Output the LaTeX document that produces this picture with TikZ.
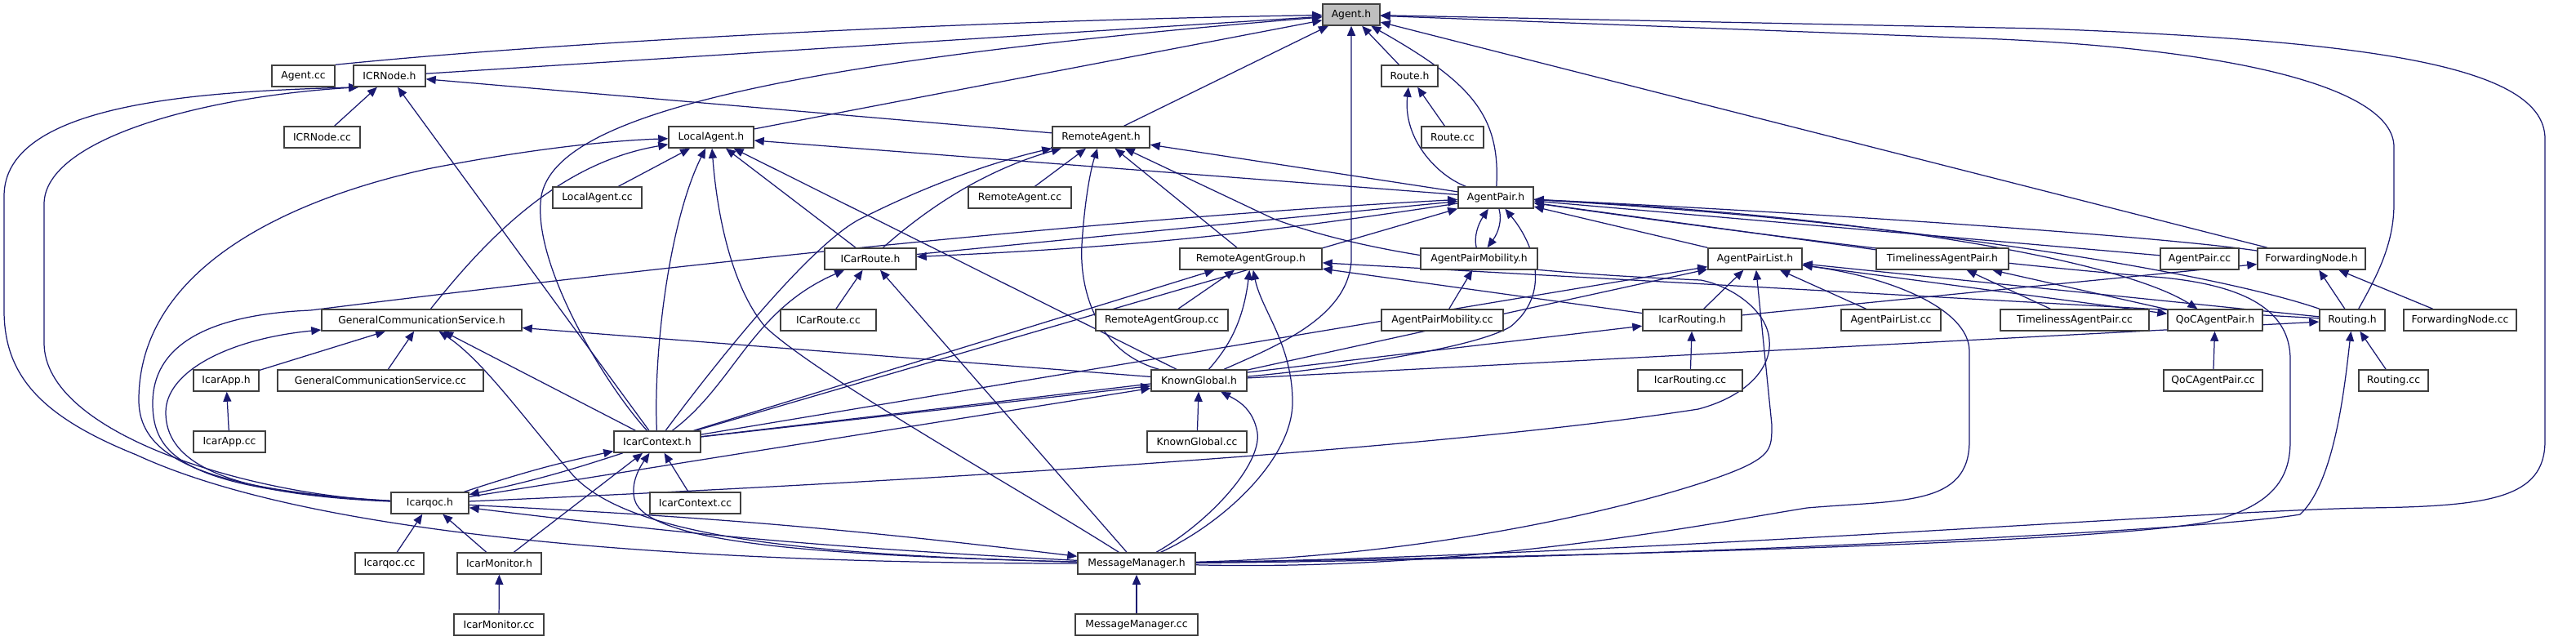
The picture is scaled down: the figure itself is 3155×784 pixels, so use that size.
\documentclass[tikz,border=0pt]{standalone}
\usepackage{fontspec}
\setmainfont{DejaVu Sans}
\usetikzlibrary{arrows.meta}
\definecolor{mblue}{HTML}{191970}
\definecolor{bord}{HTML}{404040}
\definecolor{gfill}{HTML}{BFBFBF}
\pgfdeclarelayer{bg}
\pgfsetlayers{bg,main}
\begin{document}
\begin{tikzpicture}[x=0.5pt,y=-0.5pt,
 box/.style={draw=bord, line width=0.75pt, fill=white, minimum height=13pt, inner sep=0pt, font=\fontsize{6.2}{7}\selectfont},
 dep/.style={draw=mblue, line width=0.62pt, -{Triangle[length=6pt,width=5pt]}}]
\useasboundingbox (0,0) rectangle (3155,784);
% row 0
\node[box,fill=gfill,minimum width=35pt] (agenth) at (1655,18) {Agent.h};
% row 1
\node[box,minimum width=38.5pt] (agentcc) at (371.5,93) {Agent.cc};
\node[box,minimum width=44pt] (icrnodeh) at (477,93) {ICRNode.h};
\node[box,minimum width=34.5pt] (routeh) at (1726.5,93) {Route.h};
% row 2
\node[box,minimum width=46.5pt] (icrnodecc) at (394.5,168) {ICRNode.cc};
\node[box,minimum width=52pt] (localh) at (871,168) {LocalAgent.h};
\node[box,minimum width=59.5pt] (remoteh) at (1348.5,168) {RemoteAgent.h};
\node[box,minimum width=38pt] (routecc) at (1779,168) {Route.cc};
% row 3
\node[box,minimum width=54.5pt] (localcc) at (731.5,242) {LocalAgent.cc};
\node[box,minimum width=63pt] (remotecc) at (1249,242) {RemoteAgent.cc};
\node[box,minimum width=46pt] (pairh) at (1832,242) {AgentPair.h};
% row 4
\node[box,minimum width=56pt] (icarrouteh) at (1066,317) {ICarRoute.h};
\node[box,minimum width=87pt] (ragh) at (1532,317) {RemoteAgentGroup.h};
\node[box,minimum width=71.5pt] (apmh) at (1811.5,317) {AgentPairMobility.h};
\node[box,minimum width=57.5pt] (aplh) at (2149.5,317) {AgentPairList.h};
\node[box,minimum width=81pt] (taph) at (2379,317) {TimelinessAgentPair.h};
\node[box,minimum width=48pt] (paircc) at (2694,317) {AgentPair.cc};
\node[box,minimum width=66pt] (fwdh) at (2831,317) {ForwardingNode.h};
% row 5
\node[box,minimum width=122.5pt] (gcsh) at (516.5,392) {GeneralCommunicationService.h};
\node[box,minimum width=58.5pt] (icarroutecc) at (1014.5,392) {ICarRoute.cc};
\node[box,minimum width=81pt] (ragcc) at (1423,392) {RemoteAgentGroup.cc};
\node[box,minimum width=74.5pt] (apmcc) at (1766.5,392) {AgentPairMobility.cc};
\node[box,minimum width=60.5pt] (irouth) at (2072.5,392) {IcarRouting.h};
\node[box,minimum width=61pt] (aplcc) at (2316,392) {AgentPairList.cc};
\node[box,minimum width=91pt] (tapcc) at (2541,392) {TimelinessAgentPair.cc};
\node[box,minimum width=58pt] (qoch) at (2713,392) {QoCAgentPair.h};
\node[box,minimum width=40pt] (routingh) at (2881,392) {Routing.h};
\node[box,minimum width=69pt] (fwdcc) at (3013,392) {ForwardingNode.cc};
% row 6
\node[box,minimum width=40pt] (apph) at (277,466) {IcarApp.h};
\node[box,minimum width=126pt] (gcscc) at (466,466) {GeneralCommunicationService.cc};
\node[box,minimum width=58.5pt] (kgh) at (1468.5,466) {KnownGlobal.h};
\node[box,minimum width=64pt] (iroutcc) at (2070,466) {IcarRouting.cc};
\node[box,minimum width=60.5pt] (qoccc) at (2710.5,466) {QoCAgentPair.cc};
\node[box,minimum width=42.5pt] (routingcc) at (2931.5,466) {Routing.cc};
% row 7
\node[box,minimum width=44pt] (appcc) at (281,541) {IcarApp.cc};
\node[box,minimum width=53pt] (ctxh) at (805,541) {IcarContext.h};
\node[box,minimum width=61pt] (kgcc) at (1466,541) {KnownGlobal.cc};
% row 8
\node[box,minimum width=47.5pt] (qh) at (526.5,616) {Icarqoc.h};
\node[box,minimum width=55.5pt] (ctxcc) at (851.5,616) {IcarContext.cc};
% row 9
\node[box,minimum width=42pt] (qcc) at (477,690) {Icarqoc.cc};
\node[box,minimum width=51.5pt] (monh) at (611.5,690) {IcarMonitor.h};
\node[box,minimum width=72pt] (mmh) at (1392,690) {MessageManager.h};
% row 10
\node[box,minimum width=55pt] (moncc) at (611,765) {IcarMonitor.cc};
\node[box,minimum width=75pt] (mmcc) at (1392,765) {MessageManager.cc};

\begin{pgfonlayer}{bg}
% Agent.h
\draw[dep] (agentcc.north east) .. controls (700,50) and (1200,25) .. (agenth);
\draw[dep] (icrnodeh) -- (agenth);
\draw[dep] (localh) -- (agenth);
\draw[dep] (remoteh) -- (agenth);
\draw[dep] (ctxh) .. controls (740,470) and (650,320) .. (663,240) .. controls (680,150) and (900,80) .. (agenth);
\draw[dep] (kgh) .. controls (1560,425) and (1650,390) .. (1655,320) -- (agenth);
\draw[dep] (routeh) -- (agenth);
\draw[dep] (pairh) .. controls (1838,140) and (1800,100) .. (agenth);
\draw[dep] (fwdh) -- (agenth);
\draw[dep] (routingh) .. controls (2910,340) and (2932,300) .. (2932,250) -- (2932,180) .. controls (2932,110) and (2750,62) .. (2450,48) -- (agenth);
\draw[dep] (mmh) .. controls (2000,680) and (2700,625) .. (2900,622) .. controls (3050,620) and (3117,610) .. (3117,540) -- (3117,170) .. controls (3117,80) and (2900,50) .. (2500,35) -- (agenth);
% ICRNode.h
\draw[dep] (icrnodecc) -- (icrnodeh);
\draw[dep] (remoteh) -- (icrnodeh);
\draw[dep] (ctxh) -- (icrnodeh);
\draw[dep] (qh) .. controls (300,605) and (54,530) .. (54,420) -- (54,250) .. controls (54,170) and (250,118) .. (icrnodeh.200);
\draw[dep] (mmh) .. controls (900,690) and (400,665) .. (167,557) .. controls (50,510) and (5,460) .. (5,380) -- (5,240) .. controls (5,125) and (250,112) .. (icrnodeh.200);
% Route.h
\draw[dep] (routecc) -- (routeh);
\draw[dep] (pairh) .. controls (1760,215) and (1718,170) .. (routeh);
% LocalAgent.h
\draw[dep] (localcc) -- (localh);
\draw[dep] (gcsh) .. controls (590,300) and (680,200) .. (localh);
\draw[dep] (qh) .. controls (250,600) and (170,560) .. (170,490) .. controls (170,330) and (350,245) .. (523,207) .. controls (650,182) and (750,172) .. (localh);
\draw[dep] (ctxh) .. controls (800,430) and (820,270) .. (localh);
\draw[dep] (mmh) .. controls (1250,600) and (1000,460) .. (937,400) .. controls (895,350) and (878,260) .. (localh);
\draw[dep] (icarrouteh) -- (localh);
\draw[dep] (kgh) -- (localh);
\draw[dep] (pairh) -- (localh);
% RemoteAgent.h
\draw[dep] (remotecc) -- (remoteh);
\draw[dep] (icarrouteh) .. controls (1130,260) and (1200,210) .. (remoteh);
\draw[dep] (ctxh) .. controls (880,440) and (1000,290) .. (1060,265) .. controls (1150,220) and (1230,195) .. (remoteh);
\draw[dep] (kgh) .. controls (1340,430) and (1322,350) .. (1325,300) .. controls (1328,250) and (1335,210) .. (remoteh);
\draw[dep] (ragh) -- (remoteh);
\draw[dep] (qh) .. controls (900,600) and (1700,560) .. (2080,501) .. controls (2140,485) and (2170,450) .. (2167,417) .. controls (2165,380) and (2120,350) .. (2083,343) .. controls (1900,335) and (1700,320) .. (1560,268) -- (remoteh);
\draw[dep] (pairh) -- (remoteh);
% AgentPair.h
\draw[dep] (icarrouteh) -- (pairh);
\draw[dep] (ctxh) -- (pairh);
\draw[dep] (qh) .. controls (230,600) and (187,560) .. (187,494) .. controls (187,420) and (260,385) .. (380,380) .. controls (700,340) and (1300,270) .. (pairh);
\draw[dep] (apmh) .. controls (1805,290) and (1810,275) .. (pairh);
\draw[dep] (kgh) .. controls (1600,455) and (1800,430) .. (1850,400) .. controls (1900,360) and (1880,300) .. (pairh);
\draw[dep] (paircc) -- (pairh);
\draw[dep] (aplh) -- (pairh);
\draw[dep] (taph) -- (pairh);
\draw[dep] (routingh) .. controls (2700,330) and (2300,268) .. (pairh);
\draw[dep] (fwdh) .. controls (2650,290) and (2250,262) .. (pairh);
\draw[dep] (mmh) .. controls (2000,680) and (2550,665) .. (2700,640) .. controls (2790,620) and (2805,580) .. (2805,540) -- (2805,440) .. controls (2805,380) and (2750,350) .. (2650,340) .. controls (2400,320) and (2100,280) .. (pairh);
% AgentPairMobility.h
\draw[dep] (pairh) .. controls (1840,270) and (1835,285) .. (apmh);
\draw[dep] (apmcc) -- (apmh);
% ICarRoute.h
\draw[dep] (ctxh) .. controls (900,470) and (920,380) .. (icarrouteh);
\draw[dep] (icarroutecc) -- (icarrouteh);
\draw[dep] (mmh) -- (icarrouteh);
\draw[dep] (pairh) to[bend left=3] (icarrouteh);
% RemoteAgentGroup.h
\draw[dep] (ragcc) -- (ragh);
\draw[dep] (kgh) .. controls (1500,430) and (1522,400) .. (ragh);
\draw[dep] (mmh) .. controls (1500,640) and (1585,560) .. (1583,490) .. controls (1582,420) and (1545,380) .. (ragh);
\draw[dep] (ctxh) -- (ragh);
\draw[dep] (irouth) -- (ragh);
\draw[dep] (routingh) -- (ragh);
% AgentPairList.h
\draw[dep] (aplcc) -- (aplh);
\draw[dep] (irouth) -- (aplh);
\draw[dep] (mmh) .. controls (1800,680) and (2080,600) .. (2140,570) .. controls (2170,555) and (2170,545) .. (2170,520) -- (aplh);
\draw[dep] (mmh) .. controls (1800,700) and (2100,640) .. (2213,622) .. controls (2330,612) and (2412,620) .. (2412,540) -- (2412,430) .. controls (2412,380) and (2320,340) .. (aplh);
\draw[dep] (kgh) -- (aplh);
\draw[dep] (ctxh) -- (aplh);
\draw[dep] (routingh) -- (aplh);
% TimelinessAgentPair.h / QoCAgentPair.h
\draw[dep] (tapcc) -- (taph);
\draw[dep] (qoch) -- (taph);
\draw[dep] (qoccc) -- (qoch);
\draw[dep] (aplh) -- (qoch);
\draw[dep] (pairh) .. controls (2300,265) and (2600,320) .. (qoch);
% ForwardingNode.h / Routing.h / IcarRouting.h
\draw[dep] (fwdcc) -- (fwdh);
\draw[dep] (routingh) -- (fwdh);
\draw[dep] (irouth) -- (fwdh);
\draw[dep] (routingcc) -- (routingh);
\draw[dep] (kgh) -- (routingh);
\draw[dep] (mmh) .. controls (2000,685) and (2700,650) .. (2817,630) .. controls (2860,590) and (2872,470) .. (routingh);
\draw[dep] (iroutcc) -- (irouth);
\draw[dep] (ctxh) -- (irouth);
% KnownGlobal.h
\draw[dep] (kgcc) -- (kgh);
\draw[dep] (ctxh) -- (kgh);
\draw[dep] (qh) -- (kgh);
\draw[dep] (mmh) .. controls (1480,640) and (1545,570) .. (1540,530) .. controls (1535,500) and (1515,490) .. (kgh);
% IcarContext.h / Icarqoc.h
\draw[dep] (qh) to[bend left=3] (ctxh);
\draw[dep] (ctxh) to[bend left=3] (qh);
\draw[dep] (monh) -- (ctxh);
\draw[dep] (mmh) .. controls (1000,680) and (790,665) .. (777,611) .. controls (772,590) and (785,570) .. (ctxh);
\draw[dep] (ctxcc) -- (ctxh);
\draw[dep] (mmh) to[bend left=2] (qh);
\draw[dep] (qh) to[bend left=2] (mmh);
\draw[dep] (qcc) -- (qh);
\draw[dep] (monh) -- (qh);
\draw[dep] (moncc) -- (monh);
\draw[dep] (mmcc) -- (mmh);
% GCS / IcarApp
\draw[dep] (appcc) -- (apph);
\draw[dep] (apph) -- (gcsh);
\draw[dep] (gcscc) -- (gcsh);
\draw[dep] (kgh) -- (gcsh);
\draw[dep] (ctxh) -- (gcsh);
\draw[dep] (mmh) .. controls (1000,680) and (770,660) .. (700,580) .. controls (640,510) and (590,440) .. (gcsh);
\draw[dep] (qh) .. controls (260,605) and (203,560) .. (203,505) .. controls (203,455) and (280,415) .. (gcsh);
\end{pgfonlayer}
\end{tikzpicture}
\end{document}
